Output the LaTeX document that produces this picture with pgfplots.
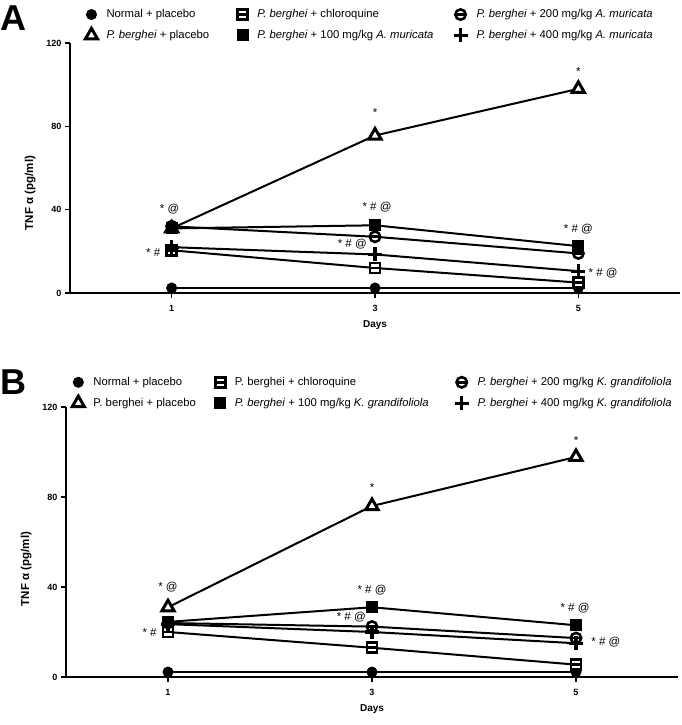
\documentclass[border=0pt]{standalone}
\usepackage{fontspec}
\setmainfont{Liberation Sans}
\usepackage{pgfplots}
\pgfplotsset{compat=1.18}
\usetikzlibrary{plotmarks}

\pgfdeclareplotmark{sqbar}{%
  \pgfpathrectangle{\pgfqpoint{-\pgfplotmarksize}{-\pgfplotmarksize}}{\pgfqpoint{2\pgfplotmarksize}{2\pgfplotmarksize}}%
  \pgfusepathqfillstroke
  \pgfpathmoveto{\pgfqpoint{-\pgfplotmarksize}{0pt}}%
  \pgfpathlineto{\pgfqpoint{\pgfplotmarksize}{0pt}}%
  \pgfusepathqstroke}
\pgfdeclareplotmark{obar}{%
  \pgfpathcircle{\pgfpointorigin}{\pgfplotmarksize}%
  \pgfusepathqfillstroke
  \pgfpathmoveto{\pgfqpoint{-\pgfplotmarksize}{0pt}}%
  \pgfpathlineto{\pgfqpoint{\pgfplotmarksize}{0pt}}%
  \pgfusepathqstroke}

\tikzset{ann/.style={font=\fontsize{11.5}{13}\selectfont, inner sep=1pt}}
\pgfplotsset{
  legend image code/.code={\path[#1] plot coordinates {(0.25cm,0cm)};},
  panel/.style={
    scale only axis, anchor=south west,
    xmin=0, xmax=6, ymin=0, ymax=120,
    axis x line*=bottom, axis y line*=left,
    axis line style={line width=2.4pt, black},
    xtick={1,3,5}, ytick={0,40,80,120},
    tick align=outside, major tick length=5pt,
    tick style={line width=1.5pt, black},
    /pgf/number format/assume math mode=true,
    tick label style={font=\fontsize{9}{10}\selectfont\bfseries},
    xticklabel style={yshift=-4pt},
    xlabel={Days}, ylabel={TNF α (pg/ml)},
    xlabel style={font=\fontsize{10}{11}\selectfont\bfseries, yshift=-2pt},
    ylabel style={font=\fontsize{11.5}{12}\selectfont\bfseries, at={(ticklabel cs:0.4)}, yshift=4pt},
    clip=false,
    legend columns=3,
    legend cell align=left,
    legend style={draw=none, fill=none, font=\fontsize{11.3}{13}\selectfont,
      anchor=north west, row sep=7pt,
      /tikz/every odd column/.style={column sep=7pt}},
    every axis plot/.append style={black, line width=2pt},
  },
  snormal/.style={mark=*, mark size=5pt, mark options={solid, fill=black, line width=1pt}},
  splacebo/.style={mark=triangle*, mark size=7pt, mark options={solid, fill=white, line width=3pt}},
  schloro/.style={mark=sqbar, mark size=5pt, mark options={solid, fill=white, line width=2.6pt}},
  sonehundred/.style={mark=square*, mark size=5.5pt, mark options={solid, fill=black, line width=1pt}},
  stwohundred/.style={mark=obar, mark size=5.2pt, mark options={solid, fill=white, line width=2.6pt}},
  sfourhundred/.style={mark=+, mark size=7pt, mark options={solid, line width=3.2pt}},
}

\begin{document}
\begin{tikzpicture}
\path[use as bounding box] (0pt,0pt) rectangle (682pt,-725pt);

% ---------------- Panel A ----------------
\node[anchor=north west, inner sep=0pt, font=\fontsize{36}{36}\selectfont\bfseries] at (0pt,-6pt) {A};
\begin{axis}[panel, at={(70pt,-293pt)}, width=610pt, height=250pt,
  legend style={at={(axis description cs:0.02,1.15)},
    /tikz/column 2/.style={column sep=26pt},
    /tikz/column 4/.style={column sep=18pt}}]
\addplot[snormal] coordinates {(1,2.4) (3,2.4) (5,2.4)};
\addlegendentry{Normal + placebo}
\addplot[schloro] coordinates {(1,20.5) (3,12) (5,5)};
\addlegendentry{\textit{P. berghei} + chloroquine}
\addplot[stwohundred] coordinates {(1,32) (3,27) (5,19)};
\addlegendentry{\textit{P. berghei} + 200 mg/kg \textit{A. muricata}}
\addplot[splacebo] coordinates {(1,31) (3,75.6) (5,98)};
\addlegendentry{\textit{P. berghei} + placebo}
\addplot[sonehundred] coordinates {(1,31) (3,32.5) (5,22.5)};
\addlegendentry{\textit{P. berghei} + 100 mg/kg \textit{A. muricata}}
\addplot[sfourhundred] coordinates {(1,22) (3,18.5) (5,10.5)};
\addlegendentry{\textit{P. berghei} + 400 mg/kg \textit{A. muricata}}
\node[ann] at (axis cs:0.98,40.5) {* @};
\node[ann, anchor=east] at (axis cs:0.9,19.6) {* \#};
\node[ann] at (axis cs:3.02,41) {* \# @};
\node[ann, anchor=east] at (axis cs:2.93,23.5) {* \# @};
\node[ann] at (axis cs:5,30.5) {* \# @};
\node[ann, anchor=west] at (axis cs:5.09,9.6) {* \# @};
\node[ann] at (axis cs:3,86.5) {*};
\node[ann] at (axis cs:5,106.5) {*};
\end{axis}

% ---------------- Panel B ----------------
\node[anchor=north west, inner sep=0pt, font=\fontsize{36}{36}\selectfont\bfseries] at (0pt,-370pt) {B};
\begin{axis}[panel, at={(66pt,-677pt)}, width=612pt, height=270pt,
  legend style={at={(axis description cs:0.005,1.125)},
    /tikz/column 2/.style={column sep=17pt},
    /tikz/column 4/.style={column sep=24pt}}]
\addplot[snormal] coordinates {(1,2.2) (3,2.2) (5,2.2)};
\addlegendentry{Normal + placebo}
\addplot[schloro] coordinates {(1,20) (3,13) (5,5.5)};
\addlegendentry{P. berghei + chloroquine}
\addplot[stwohundred] coordinates {(1,24) (3,22.4) (5,17.3)};
\addlegendentry{\textit{P. berghei} + 200 mg/kg \textit{K. grandifoliola}}
\addplot[splacebo] coordinates {(1,31) (3,76) (5,97.8)};
\addlegendentry{P. berghei + placebo}
\addplot[sonehundred] coordinates {(1,24.5) (3,31) (5,23)};
\addlegendentry{\textit{P. berghei} + 100 mg/kg \textit{K. grandifoliola}}
\addplot[sfourhundred] coordinates {(1,23.5) (3,20) (5,15)};
\addlegendentry{\textit{P. berghei} + 400 mg/kg \textit{K. grandifoliola}}
\node[ann] at (axis cs:1,40) {* @};
\node[ann, anchor=east] at (axis cs:0.9,19.6) {* \#};
\node[ann] at (axis cs:3,38.5) {* \# @};
\node[ann, anchor=east] at (axis cs:2.95,26.5) {* \# @};
\node[ann] at (axis cs:4.99,30.5) {* \# @};
\node[ann, anchor=west] at (axis cs:5.14,15.6) {* \# @};
\node[ann] at (axis cs:3,84) {*};
\node[ann] at (axis cs:5,105) {*};
\end{axis}
\end{tikzpicture}
\end{document}
